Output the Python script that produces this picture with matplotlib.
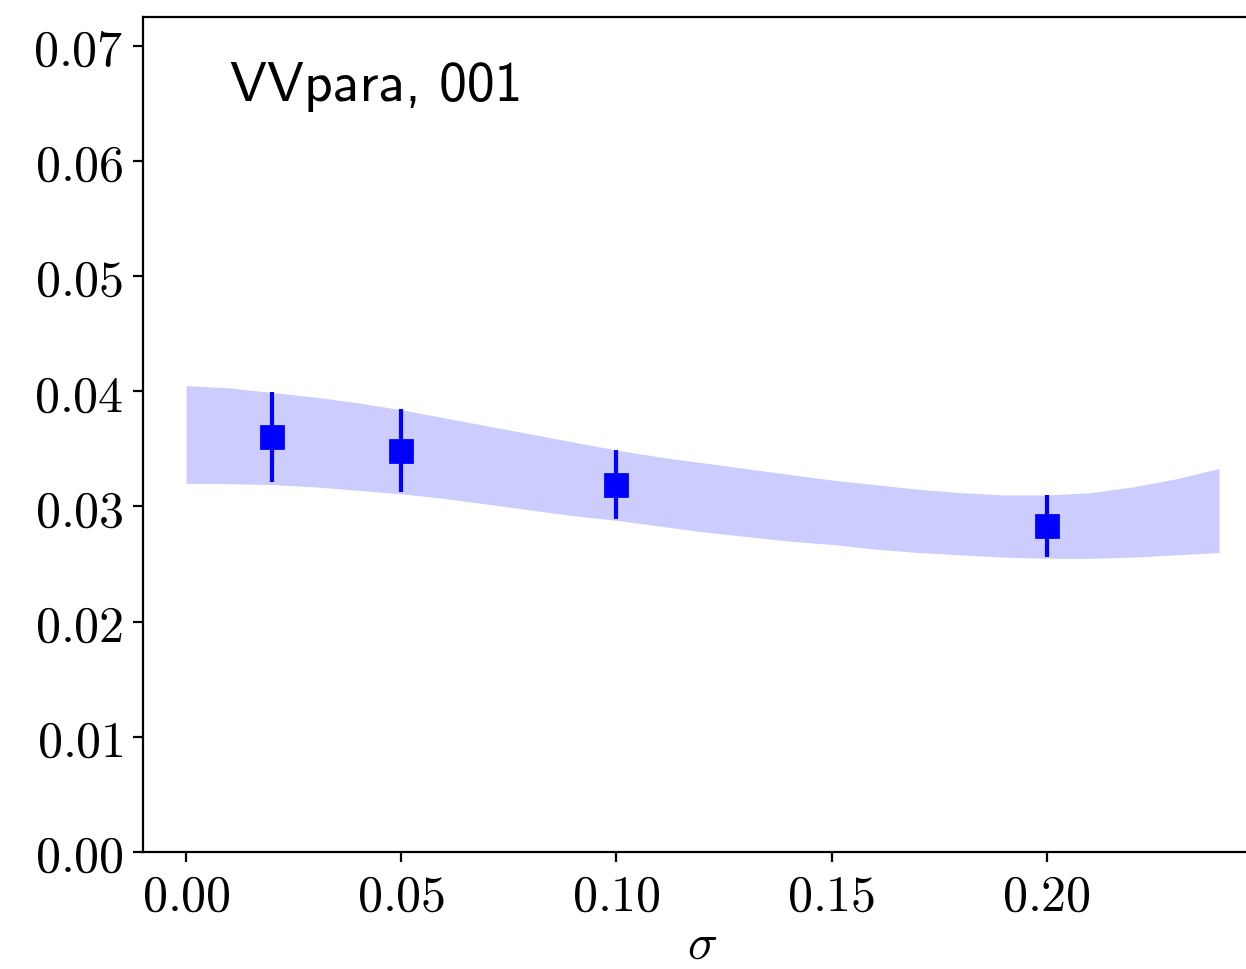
# VVpara, 001: data points with error bars over a fitted band

import numpy as np
import matplotlib
matplotlib.use("Agg")
import matplotlib.pyplot as plt
from matplotlib.ticker import FuncFormatter

plt.rcParams['mathtext.fontset'] = 'cm'

# Measured points
sigma = [0.02, 0.05, 0.10, 0.20]
value = [0.0360, 0.03485, 0.0319, 0.0283]
err = [0.0039, 0.0036, 0.0030, 0.0027]

# Band
band_x = [0.00, 0.01, 0.02, 0.03, 0.04, 0.05, 0.06, 0.07, 0.08, 0.09, 0.10, 0.11, 0.12,
          0.13, 0.14, 0.15, 0.16, 0.17, 0.18, 0.19, 0.20, 0.21, 0.22, 0.23, 0.24]
band_hi = [0.0405, 0.0403, 0.0399, 0.0395, 0.0390, 0.0384, 0.0377, 0.0370, 0.0363, 0.0356,
           0.0349, 0.0343, 0.0338, 0.0333, 0.0328, 0.0323, 0.0319, 0.0315, 0.0312, 0.0310,
           0.0310, 0.0312, 0.0317, 0.0324, 0.0333]
band_lo = [0.0320, 0.03198, 0.0319, 0.0317, 0.0314, 0.0311, 0.0307, 0.0302, 0.0297, 0.0292,
           0.0288, 0.0283, 0.0278, 0.0274, 0.0270, 0.0267, 0.0263, 0.0260, 0.0258, 0.0256,
           0.0255, 0.0255, 0.0256, 0.0258, 0.0260]

xticks = [0.00, 0.05, 0.10, 0.15, 0.20]
yticks = [0.00, 0.01, 0.02, 0.03, 0.04, 0.05, 0.06, 0.07]

fig = plt.figure(figsize=(6.23, 4.85), dpi=200)
ax = fig.add_axes([143/1246, 117/970, (1262-143)/1246, (853-18)/970])

ax.fill_between(band_x, band_lo, band_hi, color='blue', alpha=0.2, linewidth=0)
ax.errorbar(sigma, value, yerr=err, fmt='s', color='blue', markersize=8, elinewidth=1.5)

ax.set_xlim(-0.01, 0.25)
ax.set_ylim(0, 0.0725)
ax.set_xticks(xticks)
ax.set_yticks(yticks)
fmt = FuncFormatter(lambda v, p: f"${v:.2f}$")
ax.xaxis.set_major_formatter(fmt)
ax.yaxis.set_major_formatter(fmt)
ax.tick_params(labelsize=18)
ax.set_xlabel(r'$\sigma$', fontsize=18, labelpad=0)

ax.text(0.0775, 0.917, 'VVpara, 001', transform=ax.transAxes, fontsize=20,
        family='cmss10', va='center', ha='left')

plt.savefig('out.png', dpi=200)
